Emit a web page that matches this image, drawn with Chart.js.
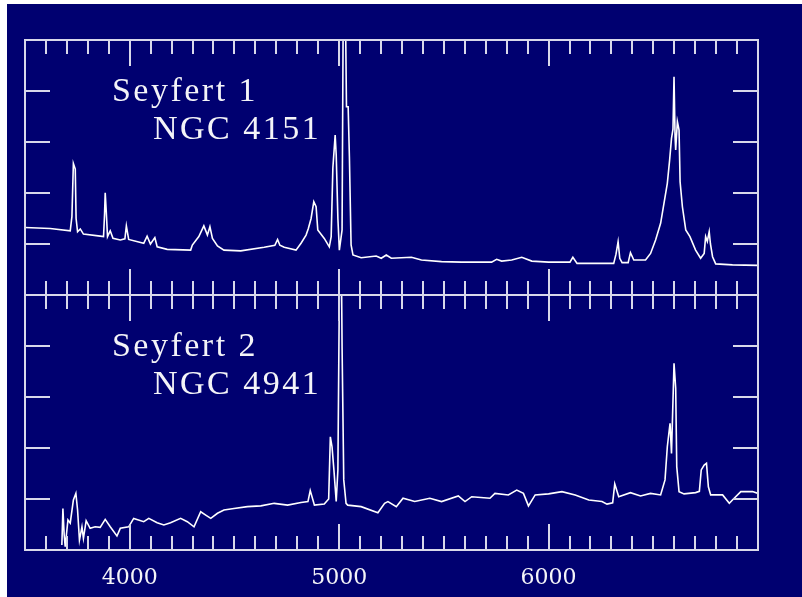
<!DOCTYPE html>
<html>
<head>
<meta charset="utf-8">
<script src="https://cdn.jsdelivr.net/npm/chart.js@4/dist/chart.umd.min.js"></script>
<style>
  html, body { margin: 0; padding: 0; background: #ffffff; }
  #wrap { position: absolute; left: 7px; top: 4px; width: 795px; height: 593px; background: #000070; overflow: hidden; }
  canvas { display: block; }
</style>
</head>
<body>
<div id="wrap"><canvas id="c" width="795" height="593"></canvas></div>
<script>
// ---- Data (wavelength in Angstrom, relative flux in panel units 0-10) ----
const topWave = [3500,3620,3716,3724,3731,3740,3744,3751,3764,3779,3859,3875,3880,3883,3888,3894,3907,3920,3955,3977,3984,3995,
  4067,4083,4099,4120,4131,4179,4291,4299,4330,4354,4371,4383,4395,4419,4450,4530,4642,4693,4706,4717,4738,4794,
  4818,4842,4853,4866,4879,4890,4898,4929,4953,4962,4970,4981,4986,4994,5001,5014,5020,5029,5035,5043,5049,5057,5066,
  5105,5177,5201,5225,5249,5345,5393,5489,5585,5728,5752,5776,5824,5872,5920,6000,6102,6116,6136,6255,6311,6322,6332,
  6340,6351,6380,6391,6407,6463,6487,6511,6535,6551,6567,6578,6587,6594,6599,6604,6607,6615,6623,6628,6639,6655,6675,
  6702,6726,6743,6750,6758,6767,6773,6783,6798,6878,7000];
const topFlux = [2.65,2.61,2.52,3.07,5.16,4.94,3.0,2.48,2.59,2.39,2.31,2.29,3.2,4.01,3.27,2.29,2.52,2.22,2.16,2.2,2.71,2.18,
  2.03,2.31,2.0,2.25,1.89,1.79,1.76,1.96,2.29,2.71,2.35,2.68,2.22,1.92,1.76,1.73,1.87,1.95,2.18,1.95,1.87,1.76,
  2.03,2.35,2.61,3.0,3.66,3.46,2.55,2.22,1.89,2.29,4.98,6.27,5.49,3.0,1.76,2.55,12,12,7.38,7.38,5.42,1.96,1.57,
  1.46,1.53,1.44,1.57,1.44,1.48,1.37,1.31,1.29,1.29,1.40,1.33,1.37,1.48,1.33,1.29,1.29,1.48,1.24,1.24,1.24,1.6,2.09,
  1.44,1.27,1.27,1.66,1.37,1.37,1.63,2.16,2.81,3.59,4.38,5.29,6.14,6.5,8.56,6.2,5.69,6.80,6.47,4.44,3.46,2.55,2.29,
  1.76,1.44,1.63,2.29,2.1,2.48,2.0,1.50,1.22,1.18,1.16];

const botWave = [3676,3681,3687,3692,3705,3716,3731,3743,3751,3760,3772,3779,3792,3811,3835,3859,3883,3907,3939,3955,3995,4019,
  4067,4091,4131,4163,4195,4243,4275,4307,4339,4363,4387,4419,4450,4498,4562,4626,4690,4754,4818,4851,4862,4882,4929,
  4950,4958,4966,4975,4986,4994,5003,5010,5014,5022,5033,5041,5105,5185,5217,5233,5273,5305,5361,5433,5489,5569,5601,
  5633,5720,5744,5808,5848,5880,5904,5936,6000,6064,6127,6192,6255,6279,6306,6316,6335,6391,6439,6487,6535,6556,6567,
  6580,6587,6599,6607,6612,6623,6647,6702,6720,6729,6743,6754,6763,6774,6831,6863,6878,6918,6974,7000];
const botFlux = [0.2,1.63,0.6,0.13,1.18,1.05,1.96,2.22,1.57,0.39,0.91,0.46,1.15,0.85,0.91,0.89,1.2,0.91,0.55,0.85,0.91,1.24,
  1.11,1.24,1.07,0.98,1.07,1.24,1.11,0.91,1.50,1.37,1.24,1.44,1.57,1.63,1.70,1.73,1.83,1.76,1.86,1.9,2.33,1.76,1.80,
  2.0,4.44,4.05,3.14,1.90,3.14,12,12,7.97,2.75,1.83,1.76,1.70,1.46,1.83,1.90,1.70,2.03,1.90,2.03,1.90,2.12,1.90,
  2.09,2.03,2.22,2.16,2.35,2.22,1.73,2.16,2.20,2.29,2.16,1.96,1.90,1.80,1.85,2.59,2.09,2.25,2.12,2.22,2.16,2.75,4.05,
  4.97,3.79,7.32,6.34,3.27,2.29,2.20,2.25,2.3,3.14,3.33,3.40,2.48,2.16,2.16,1.83,1.96,2.29,2.29,2.22];

const panelLabels = [["Seyfert 1", "NGC 4151"], ["Seyfert 2", "NGC 4941"]];
const labelWave = [3915, 4111];   // left edge of each label line
const labelLevel = [7.6, 6.1];    // baseline of each label line (panel units)

const xMin = 3500, xMax = 7000, xStep = 100, xMajor = 1000;
const yMin = 0, yMax = 10, yStep = 1, yMajor = 2;

const toPts = (w, f) => w.map((x, i) => ({x: x, y: f[i]}));

const FG = '#d8d8ea';
const LINE = '#ffffff';
const TEXT = '#f4f4f8';

const framePlugin = {
  id: 'frame',
  beforeDatasetDraw(chart, args) {
    const meta = chart.getDatasetMeta(args.index);
    const ys = chart.scales[meta.yAxisID];
    const a = chart.chartArea;
    const ctx = chart.ctx;
    ctx.save();
    ctx.beginPath();
    ctx.rect(a.left, ys.top, a.right - a.left, ys.bottom - ys.top);
    ctx.clip();
  },
  afterDatasetDraw(chart) {
    chart.ctx.restore();
  },
  afterDraw(chart) {
    const ctx = chart.ctx;
    const a = chart.chartArea;
    const xs = chart.scales.x;
    ctx.save();
    ctx.strokeStyle = FG;
    ctx.lineWidth = 2;
    ['yTop', 'yBot'].forEach(id => {
      const ys = chart.scales[id];
      const t = Math.round(ys.top), b = Math.round(ys.bottom);
      ctx.strokeRect(a.left, t, a.right - a.left, b - t);
      ctx.beginPath();
      xs.ticks.forEach(tk => {
        if (tk.value <= xMin || tk.value >= xMax) return;
        const px = Math.round(xs.getPixelForValue(tk.value));
        const len = (tk.value % xMajor === 0) ? 26 : 14;
        ctx.moveTo(px, t); ctx.lineTo(px, t + len);
        ctx.moveTo(px, b); ctx.lineTo(px, b - len);
      });
      ys.ticks.forEach(tk => {
        if (tk.value <= yMin || tk.value >= yMax) return;
        const py = Math.round(ys.getPixelForValue(tk.value));
        const len = (tk.value % yMajor === 0) ? 25 : 13;
        ctx.moveTo(a.left, py); ctx.lineTo(a.left + len, py);
        ctx.moveTo(a.right, py); ctx.lineTo(a.right - len, py);
      });
      ctx.stroke();
    });
    // panel labels
    ctx.fillStyle = TEXT;
    ctx.font = '34px "Liberation Serif"';
    ctx.textBaseline = 'alphabetic';
    ctx.letterSpacing = '2.5px';
    ['yTop', 'yBot'].forEach((id, p) => {
      const ys = chart.scales[id];
      panelLabels[p].forEach((txt, i) => {
        ctx.fillText(txt, xs.getPixelForValue(labelWave[i]), ys.getPixelForValue(labelLevel[i]));
      });
    });
    ctx.restore();
  }
};

new Chart(document.getElementById('c'), {
  type: 'line',
  data: {
    datasets: [
      { data: toPts(topWave, topFlux), yAxisID: 'yTop', borderColor: LINE, borderWidth: 1.6, pointRadius: 0, tension: 0, fill: false },
      { data: toPts(botWave, botFlux), yAxisID: 'yBot', borderColor: LINE, borderWidth: 1.6, pointRadius: 0, tension: 0, fill: false }
    ]
  },
  options: {
    responsive: false,
    animation: false,
    events: [],
    layout: { padding: { left: 18, right: 44, top: 36, bottom: 7 } },
    scales: {
      x: {
        type: 'linear', min: xMin, max: xMax,
        grid: { display: false, drawTicks: false },
        border: { display: false },
        afterFit: s => { s.height = 40; },
        ticks: {
          stepSize: xStep, autoSkip: false, maxRotation: 0, padding: 15,
          color: TEXT, font: { family: 'DejaVu Serif', size: 22 },
          callback: v => (v % xMajor === 0 && v > xMin && v < xMax) ? String(v) : ''
        }
      },
      yBot: { type: 'linear', min: yMin, max: yMax, position: 'left', stack: 'panels', stackWeight: 1, display: false, ticks: { stepSize: yStep } },
      yTop: { type: 'linear', min: yMin, max: yMax, position: 'left', stack: 'panels', stackWeight: 1, display: false, ticks: { stepSize: yStep } }
    },
    plugins: { legend: { display: false }, tooltip: { enabled: false } }
  },
  plugins: [framePlugin]
});
</script>
</body>
</html>
